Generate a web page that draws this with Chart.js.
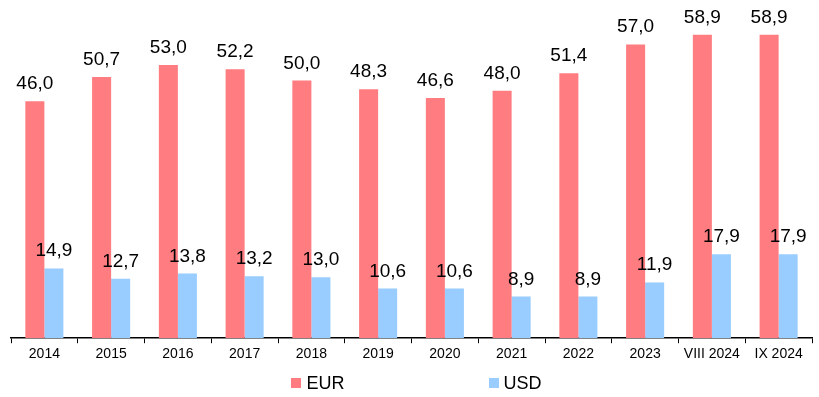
<!DOCTYPE html>
<html lang="en">
<head>
<meta charset="utf-8">
<title>EUR / USD</title>
<script src="https://cdn.jsdelivr.net/npm/chart.js@4.4.1/dist/chart.umd.min.js"></script>
<style>
  html, body { margin: 0; padding: 0; background: #fff; }
  .chart-wrap { position: relative; width: 819px; height: 397px; }
  #legend {
    position: absolute; left: 14px; right: 0; top: 373px;
    display: flex; justify-content: center; gap: 144px;
    font: 18px "Liberation Sans", Arial, sans-serif; color: #000;
  }
  .legend-item { display: flex; align-items: center; line-height: 20px; }
  .legend-swatch { width: 10px; height: 10px; margin-right: 5px; }
</style>
</head>
<body>
<div class="chart-wrap">
  <canvas id="fxChart" width="819" height="397"></canvas>
  <div id="legend"></div>
</div>
<script>
  // Yearly values, last two are monthly snapshots
  const categories = ["2014", "2015", "2016", "2017", "2018", "2019", "2020", "2021", "2022", "2023", "VIII 2024", "IX 2024"];
  const eurValues = [46.0, 50.7, 53.0, 52.2, 50.0, 48.3, 46.6, 48.0, 51.4, 57.0, 58.9, 58.9];
  const usdValues = [14.9, 12.7, 13.8, 13.2, 13.0, 10.6, 10.6, 8.9, 8.9, 11.9, 17.9, 17.9];

  const FONT = "'Liberation Sans', Arial, sans-serif";

  // Writes the value above each bar, with a decimal comma
  const valueLabels = {
    id: "valueLabels",
    afterDatasetsDraw(chart) {
      const ctx = chart.ctx;
      ctx.save();
      ctx.font = "19px " + FONT;
      ctx.fillStyle = "#000";
      ctx.textAlign = "center";
      ctx.textBaseline = "alphabetic";
      chart.data.datasets.forEach((ds, i) => {
        chart.getDatasetMeta(i).data.forEach((bar, j) => {
          ctx.fillText(ds.data[j].toFixed(1).replace(".", ","), bar.x, bar.y - 12);
        });
      });
      ctx.restore();
    }
  };

  const chart = new Chart(document.getElementById("fxChart"), {
    type: "bar",
    data: {
      labels: categories,
      datasets: [
        { label: "EUR", data: eurValues, backgroundColor: "#FF7C80", yAxisID: "y" },
        { label: "USD", data: usdValues, backgroundColor: "#99CCFF", yAxisID: "y1" }
      ]
    },
    options: {
      responsive: false,
      animation: false,
      layout: { padding: { top: 29, left: 11, right: 7, bottom: 31 } },
      datasets: { bar: { categoryPercentage: 0.57, barPercentage: 1.0 } },
      plugins: {
        legend: { display: false },
        tooltip: { enabled: false }
      },
      scales: {
        x: {
          grid: { drawOnChartArea: false, drawTicks: true, tickLength: 5, color: "#000", offset: true },
          border: { display: true, color: "#000", width: 1.5 },
          ticks: { color: "#000", font: { family: FONT, size: 14 }, padding: 3, maxRotation: 0, autoSkip: false }
        },
        y: { display: false, min: 0, max: 60 },
        y1: { display: false, min: 0, max: 66 }
      }
    },
    plugins: [valueLabels]
  });

  // Legend built from the datasets
  const legendEl = document.getElementById("legend");
  chart.data.datasets.forEach(ds => {
    const item = document.createElement("div");
    item.className = "legend-item";
    item.innerHTML = `<span class="legend-swatch" style="background:${ds.backgroundColor}"></span>${ds.label}`;
    legendEl.appendChild(item);
  });
</script>
</body>
</html>
